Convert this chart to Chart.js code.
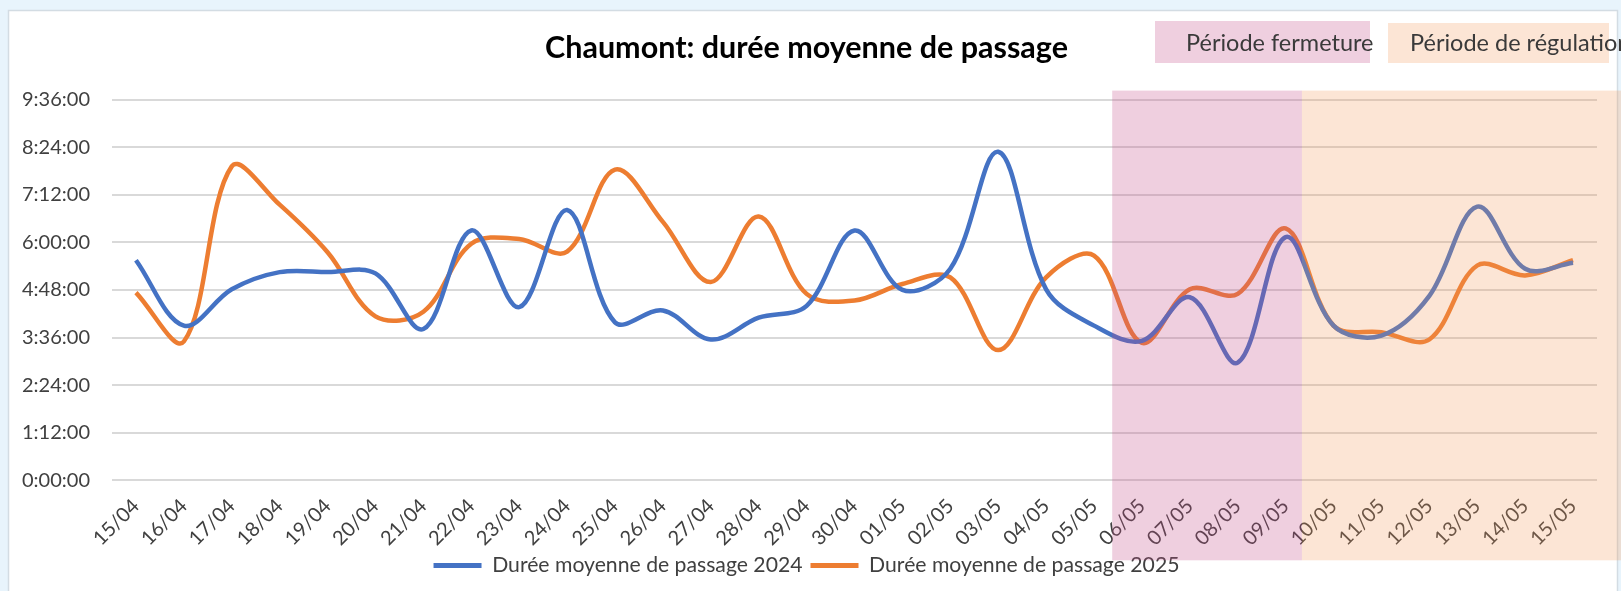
<!DOCTYPE html>
<html>
<head>
<meta charset="utf-8">
<script src="https://cdn.jsdelivr.net/npm/chart.js@4.4.1/dist/chart.umd.min.js"></script>
<style>
html,body{margin:0;padding:0;background:#E8F4FC;overflow:hidden;}
canvas{display:block;}
</style>
</head>
<body>
<canvas id="c" width="1621" height="591"></canvas>
<script>
// ---- DATA ----
const categories = ['15/04','16/04','17/04','18/04','19/04','20/04','21/04','22/04','23/04','24/04','25/04','26/04','27/04','28/04','29/04','30/04','01/05','02/05','03/05','04/05','05/05','06/05','07/05','08/05','09/05','10/05','11/05','12/05','13/05','14/05','15/05'];
const duree2024 = ['5:33','3:54','4:49','5:15','5:15','5:13','3:49','6:18','4:22','6:49','3:59','4:17','3:33','4:06','4:24','6:18','4:48','5:20','8:17','4:49','3:54','3:31','4:37','2:58','6:08','3:54','3:39','4:39','6:54','5:20','5:29'];
const duree2025 = ['4:44','3:30','7:55','6:57','5:45','4:08','4:15','5:58','6:05','5:46','7:50','6:31','5:00','6:39','4:42','4:32','4:57','5:07','3:17','5:07','5:40','3:28','4:49','4:42','6:21','3:54','3:44','3:33','5:25','5:10','5:33'];
const seriesNames = ['Durée moyenne de passage 2024','Durée moyenne de passage 2025'];
const yTickLabels = ['0:00:00','1:12:00','2:24:00','3:36:00','4:48:00','6:00:00','7:12:00','8:24:00','9:36:00'];
const periodFermeture = ['06/05','09/05'];
const periodRegulation = ['10/05','15/05'];
const periodNames = ['Période fermeture','Période de régulation'];
const titleText = 'Chaumont: durée moyenne de passage';

// ---- helpers ----
const toMinutes = s => { const [h,m] = s.split(':').map(Number); return h*60+m; };
const v2024 = duree2024.map(toMinutes);
const v2025 = duree2025.map(toMinutes);
const yMaxMin = toMinutes(yTickLabels[yTickLabels.length-1]);
const yStep = toMinutes(yTickLabels[1]);

const FONT = 'Lato, "Open Sans", sans-serif';
const BLUE = '#4472C4', ORANGE = '#ED7D31';
const PINK = 'rgba(196,76,136,0.27)';
const PEACH = 'rgba(244,150,88,0.25)';

const periodsPlugin = {
  id: 'periods',
  beforeDraw(chart) {
    const ctx = chart.ctx;
    ctx.save();
    ctx.fillStyle = '#E8F4FC';
    ctx.fillRect(0,0,chart.width,chart.height);
    ctx.fillStyle = '#FFFFFF';
    ctx.fillRect(8,10,1610,chart.height);
    ctx.strokeStyle = '#D3DCE3';
    ctx.lineWidth = 1.5;
    ctx.strokeRect(8.5,10.5,1609,chart.height+5);
    ctx.restore();
  },
  afterDatasetsDraw(chart) {
    const ctx = chart.ctx, xs = chart.scales.x, a = chart.chartArea;
    const top = a.top - 9, bottom = a.bottom + 80;
    const i0 = categories.indexOf(periodFermeture[0]);
    const i1 = categories.indexOf(periodFermeture[1]);
    const x0 = xs.getPixelForValue(i0 - 0.62);
    const x1 = xs.getPixelForValue(i1 + 0.34);
    ctx.save();
    ctx.fillStyle = PINK;
    ctx.fillRect(x0, top, x1 - x0, bottom - top);
    ctx.fillStyle = PEACH;
    ctx.fillRect(x1, top, chart.width - x1, bottom - top);
    // label boxes
    ctx.fillStyle = PINK;
    ctx.fillRect(1155, 21, 215, 42);
    ctx.fillStyle = PEACH;
    ctx.fillRect(1388, 23, 221, 40);
    ctx.fillStyle = '#3A3A3A';
    ctx.font = '23.5px ' + FONT;
    ctx.textBaseline = 'middle';
    ctx.textAlign = 'left';
    ctx.fillText(periodNames[0], 1186, 43);
    ctx.fillText(periodNames[1], 1410, 43);
    ctx.restore();
  }
};

new Chart(document.getElementById('c'), {
  type: 'line',
  data: {
    labels: categories,
    datasets: [
      { label: seriesNames[0], data: v2024, borderColor: BLUE, backgroundColor: BLUE, borderWidth: 4.5, pointRadius: 0, tension: 0.35, fill: false },
      { label: seriesNames[1], data: v2025, borderColor: ORANGE, backgroundColor: ORANGE, borderWidth: 4.5, pointRadius: 0, tension: 0.35, fill: false }
    ]
  },
  options: {
    responsive: false,
    animation: false,
    devicePixelRatio: 1,
    layout: { padding: { left: 16, right: 24, top: 0, bottom: 5 } },
    plugins: {
      title: {
        display: true, text: titleText, color: '#000000',
        font: { family: FONT, size: 30.5, weight: 'bold' },
        padding: { top: 30, bottom: 33 }
      },
      legend: {
        position: 'bottom',
        labels: {
          font: { family: FONT, size: 21.2 }, color: '#404040',
          boxWidth: 48, boxHeight: 5, padding: 8,
          generateLabels(chart) {
            return chart.data.datasets.map((d, i) => ({
              text: d.label, fillStyle: d.borderColor, strokeStyle: d.borderColor,
              lineWidth: 0, hidden: false, datasetIndex: i, fontColor: '#404040'
            }));
          }
        }
      },
      tooltip: { enabled: false }
    },
    scales: {
      x: {
        offset: true,
        grid: { display: false, drawTicks: false },
        border: { display: false },
        ticks: { autoSkip: false, maxRotation: 45, minRotation: 45, padding: 14, color: '#404040', font: { family: FONT, size: 20 } },
        afterFit(s) { s.height = 66.5; }
      },
      y: {
        min: 0, max: yMaxMin,
        grid: { color: '#D9D9D9', lineWidth: 2, drawTicks: false },
        border: { display: false },
        ticks: {
          stepSize: yStep, padding: 22, color: '#404040', font: { family: FONT, size: 20 },
          callback(v) { return yTickLabels[Math.round(v / yStep)]; }
        },
        afterFit(s) { s.width = 96; }
      }
    }
  },
  plugins: [periodsPlugin]
});
</script>
</body>
</html>
